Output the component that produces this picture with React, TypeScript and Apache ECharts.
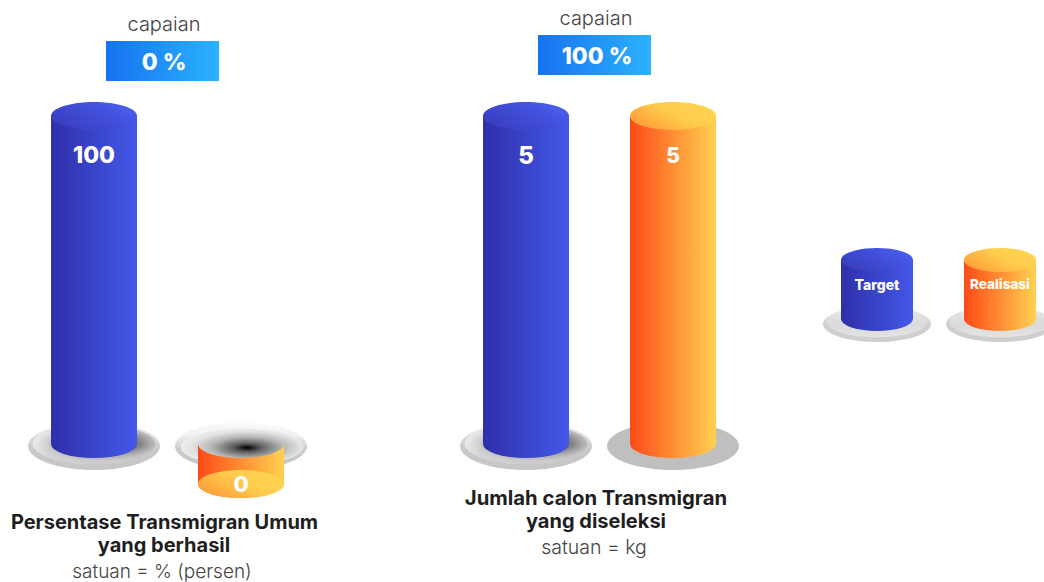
import React, { useEffect, useRef } from "react";
import * as echarts from "echarts";

const categories = ["Target", "Realisasi"];
const transmigranUmum = [100, 0];
const calonDiseleksi = [5, 5];
const legendValues = [1, 1];
const transmigranMax = 100;
const calonMax = 5;
const plateKinds1 = ["soft", "radial"];
const plateKinds2 = ["soft", "flat"];
const plateKinds3 = ["legend", "legend"];
const capaian1 = "0 %";
const capaian2 = "100 %";

const BOLD = "Inter, 'Open Sans', sans-serif";
const LIGHT = "Inter, 'Open Sans', sans-serif";

const lin = (x: number, y: number, x2: number, y2: number, stops: [number, string][]) =>
  new echarts.graphic.LinearGradient(x, y, x2, y2, stops.map(([offset, color]) => ({ offset, color })));

const sideFill = [
  () => lin(0, 0, 1, 0, [[0, "#2F2FA9"], [1, "#4359E8"]]),
  () => lin(0, 0, 1, 0, [[0, "#FF4A18"], [1, "#FFD150"]]),
];
const capFill = [
  () => lin(0, 0.8, 1, 0.2, [[0, "#383CBB"], [0.6, "#4350DC"], [1, "#4A60F0"]]),
  () => lin(0, 0.8, 1, 0.2, [[0, "#FF9A38"], [0.55, "#FFCB4C"], [1, "#FFD552"]]),
];

function plateChildren(kind: string, cx: number, cy: number, rx: number, ry: number) {
  const ell = (c: number, dy: number, rxx: number, ryy: number, fill: any) => ({
    type: "ellipse",
    shape: { cx: c, cy: cy + dy, rx: rxx, ry: ryy },
    style: { fill },
    silent: true,
  });
  if (kind === "flat") return [ell(cx, 0, rx, ry, "#BFBFBF")];
  if (kind === "radial") {
    return [
      ell(cx, 0, rx, ry, lin(0, 0, 0, 1, [[0, "#FCFCFC"], [0.3, "#EFEFEF"], [0.55, "#CCCCCC"], [1, "#C4C4C4"]])),
      ell(cx + 1, 1, rx * 0.93, ry * 0.76,
        new echarts.graphic.RadialGradient(0.54, 0.52, 0.52, [
          { offset: 0, color: "#000000" },
          { offset: 0.22, color: "#5E5E5E" },
          { offset: 0.55, color: "#B4B4B4" },
          { offset: 0.85, color: "#E2E2E2" },
          { offset: 1, color: "#EAEAEA" },
        ])),
    ];
  }
  if (kind === "legend") {
    return [
      ell(cx, 0, rx, ry, lin(0, 0, 0, 1, [[0, "#F4F4F4"], [0.5, "#CFCFCF"], [1, "#CFCFCF"]])),
      ell(cx, -2, rx * 0.93, ry * 0.85, lin(0, 0, 0, 1, [[0, "#E8E8E8"], [0.6, "#DADADA"], [1, "#E4E4E4"]])),
    ];
  }
  return [
    ell(cx, 0, rx, ry, lin(0, 0, 0, 1, [[0, "#FAFAFA"], [0.4, "#D4D4D4"], [0.6, "#C8C8C8"], [1, "#C6C6C6"]])),
    ell(cx, -2, rx * 0.93, ry * 0.84,
      new echarts.graphic.RadialGradient(0.58, 0.5, 0.55, [
        { offset: 0, color: "#000000" },
        { offset: 0.62, color: "#989898" },
        { offset: 0.82, color: "#CCCCCC" },
        { offset: 1, color: "#E6E6E6" },
      ])),
    ell(cx, -2, rx * 0.93, ry * 0.84, lin(0, 0.55, 0, 1, [[0, "rgba(200,200,200,0)"], [1, "rgba(205,205,205,1)"]])),
  ];
}

function cylinderSeries(
  xAxisIndex: number,
  values: number[],
  plates: string[],
  geo: { rx: number; ry: number; plateRx: number; plateRy: number; baseOffset: number; plateDy: number; labelDy: number; font: number[]; },
  labels?: string[],
) {
  return {
    type: "custom",
    coordinateSystem: "cartesian2d",
    xAxisIndex,
    yAxisIndex: xAxisIndex,
    clip: false,
    silent: true,
    data: values.map((v, i) => [i, v]),
    renderItem: (_p: any, api: any) => {
      const i = api.value(0);
      const v = api.value(1);
      const [cx, topY] = api.coord([i, v]);
      const zeroY = api.coord([i, 0])[1];
      const baseY = zeroY - geo.baseOffset;
      const { rx, ry } = geo;
      const upper = Math.min(topY, baseY);
      const lower = Math.max(topY, baseY);
      const onBody = topY < baseY;
      const upperEdge = onBody ? `L${cx + rx} ${upper}` : `A${rx} ${ry} 0 0 0 ${cx + rx} ${upper}`;
      const d =
        `M${cx - rx} ${upper} ${upperEdge} ` +
        `L${cx + rx} ${lower} A${rx} ${ry} 0 0 1 ${cx - rx} ${lower} Z`;
      return {
        type: "group",
        children: [
          ...plateChildren(plates[i], cx, baseY + geo.plateDy, geo.plateRx, geo.plateRy),
          { type: "path", shape: { pathData: d }, style: { fill: sideFill[i]() } },
          { type: "ellipse", shape: { cx, cy: topY, rx, ry }, style: { fill: capFill[i]() } },
          {
            type: "text",
            style: {
              x: cx,
              y: onBody ? topY + geo.labelDy : topY,
              text: labels ? labels[i] : String(v),
              fill: "#FFFFFF",
              font: `800 ${geo.font[i]}px ${BOLD}`,
              textAlign: "center",
              textVerticalAlign: "middle",
            },
          },
        ],
      };
    },
  };
}

const text = (t: string, x: number, y: number, size: number, weight: number, fill: string, family: string) => ({
  type: "text",
  x,
  y,
  silent: true,
  style: { text: t, fill, font: `${weight} ${size}px ${family}`, textAlign: "center", textVerticalAlign: "middle" },
});

const badge = (x: number, y: number, label: string, dx: number) => ({
  type: "group",
  silent: true,
  children: [
    { type: "rect", shape: { x, y, width: 113, height: 40 }, style: { fill: lin(0, 0, 1, 0, [[0, "#1573EE"], [1, "#2BB2FF"]]) } },
    text(label, x + dx, y + 21, 23, 800, "#FFFFFF", BOLD),
  ],
});

export default function App() {
  const ref = useRef<HTMLDivElement>(null);
  useEffect(() => {
    const chart = echarts.init(ref.current!, null, { renderer: "svg" });
    const xAxis = (gridIndex: number, boundaryGap: boolean) => ({ type: "category", gridIndex, data: categories, show: false, boundaryGap });
    const yAxis = (gridIndex: number, max: number) => ({ type: "value", gridIndex, min: 0, max, show: false });
    const big = { rx: 43, ry: 14, plateRx: 66, plateRy: 24, baseOffset: 40, plateDy: 2, labelDy: 39 };
    chart.setOption({
      animation: false,
      backgroundColor: "#FFFFFF",
      grid: [
        { left: 20.5, width: 294, top: 116, height: 368 },
        { left: 452.5, width: 294, top: 116, height: 368 },
        { left: 877, width: 123, top: 260, height: 59 },
      ],
      xAxis: [xAxis(0, true), xAxis(1, true), xAxis(2, false)],
      yAxis: [yAxis(0, transmigranMax), yAxis(1, calonMax), yAxis(2, 1)],
      series: [
        cylinderSeries(0, transmigranUmum, plateKinds1, { ...big, font: [23, 22] }),
        cylinderSeries(1, calonDiseleksi, plateKinds2, { ...big, font: [24, 21] }),
        cylinderSeries(2, legendValues, plateKinds3,
          { rx: 36, ry: 12, plateRx: 54, plateRy: 18, baseOffset: 0, plateDy: 5, labelDy: 24, font: [14, 13.5] }, categories),
      ],
      graphic: {
        elements: [
          text("capaian", 164, 24, 20, 300, "#444444", LIGHT),
          badge(106, 41, capaian1, 58),
          text("capaian", 596, 18, 20, 300, "#444444", LIGHT),
          badge(538, 35, capaian2, 59),
          text("Persentase Transmigran Umum", 164.5, 522, 20, 700, "#1E1E1E", BOLD),
          text("yang berhasil", 164, 545, 20, 700, "#1E1E1E", BOLD),
          text("satuan = % (persen)", 162, 571, 19, 300, "#444444", LIGHT),
          text("Jumlah calon Transmigran", 596, 497, 20.3, 700, "#1E1E1E", BOLD),
          text("yang diseleksi", 596, 521, 20, 700, "#1E1E1E", BOLD),
          text("satuan = kg", 594, 547, 19.5, 300, "#444444", LIGHT),
        ],
      },
    });
    return () => chart.dispose();
  }, []);
  return <div ref={ref} style={{ position: "fixed", left: 0, top: 0, width: 1044, height: 582 }} />;
}
